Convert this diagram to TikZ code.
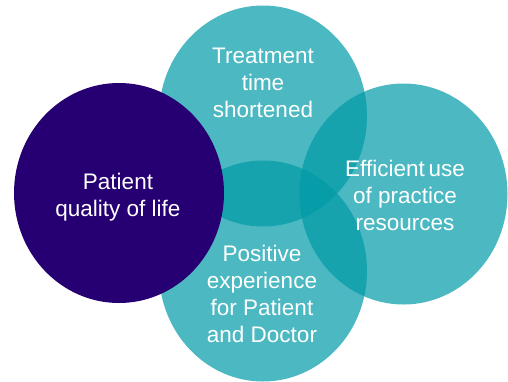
\documentclass[tikz,border=0pt]{standalone}
\usepackage{fontspec}
\setmainfont{Liberation Sans}
\usetikzlibrary{shapes.geometric}
\definecolor{tealc}{RGB}{0,154,166}
\definecolor{navyc}{RGB}{38,0,114}
\begin{document}
\begin{tikzpicture}[x=1pt,y=-1pt,
  blob/.style={ellipse, inner sep=0pt, minimum width=208pt, minimum height=221pt},
  tealblob/.style={blob, fill=tealc, fill opacity=0.7},
  navyblob/.style={blob, fill=navyc},
  label/.style={text=white, align=center, inner sep=0pt, anchor=base,
    font=\fontsize{22.5}{27.3}\selectfont}]
  \useasboundingbox (0,0) rectangle (508,381);
  % four overlapping discs
  \node[tealblob] (treat) at (263,116) {};
  \node[tealblob] (effic) at (403.5,194) {};
  \node[tealblob] (posit) at (263,271) {};
  \node[navyblob, minimum width=210pt, minimum height=220pt] (qual) at (119,193) {};
  % captions (base anchor sits on the last line)
  \node[label] (treatT) at (263,117.6) {Treatment\\time\\shortened};
  \node[label] (qualT) at (118,216.3) {Patient\\quality of life};
  \node[label] (efficT) at (405,230.6) {Efficient\,use\\of practice\\resources};
  \node[label] (positT) at (262,342.9) {Positive\\experience\\for Patient\\and Doctor};
\end{tikzpicture}
\end{document}
